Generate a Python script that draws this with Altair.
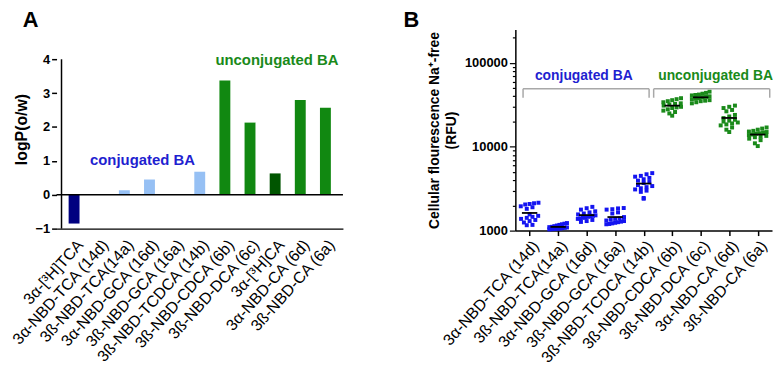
import json
import altair as alt
import numpy as np
import pandas as pd

FONT = "Liberation Sans"

# ---------------- Panel A data ----------------
a_labels = ["3α-[³H]TCA", "3α-NBD-TCA (14d)", "3ß-NBD-TCA(14a)", "3α-NBD-GCA (16d)",
            "3ß-NBD-GCA (16a)", "3ß-NBD-TCDCA (14b)", "3ß-NBD-CDCA (6b)", "3ß-NBD-DCA (6c)",
            "3α-[³H]CA", "3α-NBD-CA (6d)", "3ß-NBD-CA (6a)"]
a_logp = [-0.85, None, 0.13, 0.45, None, 0.68, 3.37, 2.13, 0.63, 2.80, 2.57]
a_group = ["tca", "conjA", "conjA", "conjA", "conjA", "conjA", "unconjA", "unconjA", "ca", "unconjA", "unconjA"]
a_group_names = ["tca", "conjA", "unconjA", "ca"]
a_group_colors = ["#000080", "#96c0f4", "#118811", "#005500"]
a_ticks = [-1, 0, 1, 2, 3, 4]

# ---------------- Panel B data ----------------
b_labels = ["3α-NBD-TCA (14d)", "3ß-NBD-TCA(14a)", "3α-NBD-GCA (16d)", "3ß-NBD-GCA (16a)",
            "3ß-NBD-TCDCA (14b)", "3ß-NBD-CDCA (6b)", "3ß-NBD-DCA (6c)", "3α-NBD-CA (6d)",
            "3ß-NBD-CA (6a)"]
b_group = ["conjB", "conjB", "conjB", "conjB", "conjB", "unconjB", "unconjB", "unconjB", "unconjB"]
b_values = [
    [2150, 2120, 2080, 2050, 1950, 1900, 1820, 1560, 1500, 1460, 1420, 1380, 1340, 1300, 1250, 1170, 1160],
    [1230, 1210, 1190, 1170, 1150, 1130, 1110, 1100, 1090, 1080, 1070, 1060, 1055, 1050, 1045, 1040, 1035],
    [1920, 1850, 1780, 1700, 1650, 1600, 1560, 1520, 1500, 1480, 1460, 1440, 1420, 1400, 1380, 1340, 1300, 1270],
    [1860, 1840, 1800, 1780, 1650, 1600, 1450, 1400, 1380, 1350, 1320, 1300, 1280, 1260, 1240, 1220, 1200, 1190],
    [4850, 4700, 4500, 4400, 4250, 4100, 3950, 3800, 3700, 3500, 3400, 3300, 3200, 3100, 3000, 2900, 2450, 2400],
    [38000, 37000, 36000, 35000, 34000, 33000, 32500, 32000, 31000, 30000, 29500, 29000, 28000, 27000, 26000, 25000, 23500],
    [45500, 44000, 43000, 42000, 41500, 41000, 40000, 39500, 39000, 38000, 37500, 37000, 36000, 35500, 35000, 34000, 33000],
    [31000, 30000, 29000, 27500, 26500, 24000, 23000, 22000, 21000, 20500, 20000, 19500, 19000, 18500, 18000, 17000, 16000, 15000],
    [17000, 16500, 16000, 15500, 15200, 15000, 14800, 14500, 14300, 14000, 13800, 13500, 13200, 13000, 12500, 12000, 11000, 10200],
]
b_group_names = ["conjB", "unconjB"]
b_group_colors = ["#1414f0", "#1a8a1a"]
b_ticks = [1000, 2000, 3000, 4000, 5000, 6000, 7000, 8000, 9000,
           10000, 20000, 30000, 40000, 50000, 60000, 70000, 80000, 90000,
           100000, 200000]
b_major = [1000, 10000, 100000]

BLUE_TXT = "#1f1fd0"
GREEN_TXT = "#1a8a1a"
LABEL_SIZE = 16
LABEL_ANGLE = -48

# ---------------- Panel A ----------------
dfA = pd.DataFrame({"idx": range(len(a_labels)), "logP": a_logp, "group": a_group}).dropna()

xscaleA = alt.Scale(domain=[-0.5, len(a_labels) - 0.5], nice=False, zero=False)
yscaleA = alt.Scale(domain=[-1, 4.88], nice=False)

xaxisA = alt.Axis(values=list(range(len(a_labels))),
                  labelExpr=json.dumps(a_labels, ensure_ascii=False) + "[datum.value]",
                  ticks=False, grid=False, labelAngle=LABEL_ANGLE, labelFont=FONT, labelFontSize=LABEL_SIZE,
                  labelColor="black", domainColor="black", domainWidth=1.5, title=None,
                  labelFlush=False, labelOverlap=False, labelPadding=8,
                  labelAlign="right", labelBaseline="top")
yaxisA = alt.Axis(values=a_ticks, format="d", grid=False, tickSize=5, tickWidth=1.5,
                  tickColor="black", domain=False, labelOverlap=False, labelFlush=False,
                  labelFont=FONT, labelFontSize=13, labelFontWeight="bold", labelColor="black",
                  title="logP(o/w)", titleFont=FONT, titleFontSize=16, titleFontWeight="bold",
                  titleColor="black", titlePadding=6)

def xa(field):
    return alt.X(field, scale=xscaleA, axis=xaxisA)

def ya(field):
    return alt.Y(field, scale=yscaleA, axis=yaxisA)

barsA = alt.Chart(dfA).mark_bar(size=11).encode(
    x=xa("idx:Q"), y=ya("logP:Q"),
    color=alt.Color("group:N", scale=alt.Scale(domain=a_group_names, range=a_group_colors), legend=None),
)
zeroA = alt.Chart(pd.DataFrame({"logP": [0]})).mark_rule(color="black", strokeWidth=1.5).encode(
    y=ya("logP:Q"))
axisLineA = alt.Chart(pd.DataFrame({"idx": [-0.5], "logP": [min(a_ticks)], "y2": [max(a_ticks)]})).mark_rule(
    color="black", strokeWidth=1.5).encode(x=xa("idx:Q"), y=ya("logP:Q"), y2="y2:Q")

annA = pd.DataFrame({"idx": [2.72, 8.07], "logP": [1.02, 3.98],
                     "t": ["conjugated BA", "unconjugated BA"], "c": [BLUE_TXT, GREEN_TXT]})
textA = alt.Chart(annA).mark_text(font=FONT, fontSize=15, fontWeight="bold").encode(
    x=xa("idx:Q"), y=ya("logP:Q"), text="t:N", color=alt.Color("c:N", scale=None))
letterA = alt.Chart(pd.DataFrame({"t": ["A"]})).mark_text(
    font=FONT, fontSize=22, fontWeight="bold", align="left", baseline="top", x=-34, y=-19,
    color="black").encode(text="t:N")

chartA = alt.layer(barsA, zeroA, axisLineA, textA, letterA).properties(width=289, height=201)

# ---------------- Panel B ----------------
def swarm(vals, bin_dec=0.05, dx_max=0.2, max_width=0.62):
    logs = np.log10(np.asarray(vals, dtype=float))
    bins = np.floor((logs.max() - logs) / bin_dec).astype(int)
    offs = np.zeros(len(vals))
    for b in np.unique(bins):
        ids = np.where(bins == b)[0]
        n = len(ids)
        dx = dx_max if n < 2 else min(dx_max, max_width / (n - 1))
        order = np.argsort(logs[ids])
        pos = (np.arange(n) - (n - 1) / 2.0) * dx
        offs[ids[order]] = pos
    return offs

rows = []
for i, vals in enumerate(b_values):
    offs = swarm(vals)
    for v, o in zip(vals, offs):
        rows.append({"idx": i, "v": v, "xpos": i + o, "group": b_group[i]})
dfB = pd.DataFrame(rows)

xscaleB = alt.Scale(domain=[-0.5, len(b_labels) - 0.5], nice=False, zero=False)
yscaleB = alt.Scale(type="log", domain=[1000, 251189], nice=False)
major_test = "indexof(" + json.dumps(b_major) + ", datum.value) >= 0"

xaxisB = alt.Axis(values=list(range(len(b_labels))),
                  labelExpr=json.dumps(b_labels, ensure_ascii=False) + "[datum.value]",
                  tickSize=5, tickWidth=1.5, tickColor="black", grid=False, labelAngle=LABEL_ANGLE,
                  labelFont=FONT, labelFontSize=LABEL_SIZE, labelColor="black",
                  domainColor="black", domainWidth=1.5, title=None,
                  labelFlush=False, labelOverlap=False, labelPadding=2,
                  labelAlign="right", labelBaseline="top")
yaxisB = alt.Axis(values=b_ticks,
                  labelExpr=major_test + " ? format(datum.value, 'd') : ''",
                  tickSize=alt.condition(major_test, alt.value(6), alt.value(3)),
                  tickWidth=1.2, tickColor="black", grid=False,
                  domainColor="black", domainWidth=1.5, labelOverlap=False, labelFlush=False,
                  labelFont=FONT, labelFontSize=13, labelFontWeight="bold", labelColor="black",
                  title=["Cellular flourescence Na⁺-free", "(RFU)"], titleFont=FONT,
                  titleFontSize=14, titleFontWeight="bold", titleColor="black",
                  titleLineHeight=17, titlePadding=6)

def xb(field):
    return alt.X(field, scale=xscaleB, axis=xaxisB)

def yb(field):
    return alt.Y(field, scale=yscaleB, axis=yaxisB)

pointsB = alt.Chart(dfB).mark_square(size=16, opacity=1).encode(
    x=xb("xpos:Q"), y=yb("v:Q"),
    color=alt.Color("group:N", scale=alt.Scale(domain=b_group_names, range=b_group_colors), legend=None),
)
meanB = alt.Chart(dfB).transform_aggregate(
    v="mean(v)", groupby=["idx"]
).transform_calculate(
    xpos="datum.idx - 0.27", x2="datum.idx + 0.27"
).mark_rule(color="black", strokeWidth=1.8).encode(
    x=xb("xpos:Q"), x2="x2:Q", y=yb("v:Q"))

# brackets (annotation)
br_left = [-0.23, 4.35]
br_right = [4.19, 8.42]
br_top = 49200
br_bottom = 38500
segs = []
for l, r in zip(br_left, br_right):
    segs.append({"xpos": l, "x2": r, "v": br_top, "y2": br_top})
    segs.append({"xpos": l, "x2": l, "v": br_top, "y2": br_bottom})
    segs.append({"xpos": r, "x2": r, "v": br_top, "y2": br_bottom})
bracketB = alt.Chart(pd.DataFrame(segs)).mark_rule(color="#a8a8a8", strokeWidth=1.5).encode(
    x=xb("xpos:Q"), x2="x2:Q", y=yb("v:Q"), y2="y2:Q")

annB = pd.DataFrame({"xpos": [1.9, 6.52], "v": [70100, 70100],
                     "t": ["conjugated BA", "unconjugated BA"], "c": [BLUE_TXT, GREEN_TXT]})
textB = alt.Chart(annB).mark_text(font=FONT, fontSize=14, fontWeight="bold").encode(
    x=xb("xpos:Q"), y=yb("v:Q"), text="t:N", color=alt.Color("c:N", scale=None))
letterB = alt.Chart(pd.DataFrame({"t": ["B"]})).mark_text(
    font=FONT, fontSize=22, fontWeight="bold", align="left", baseline="top", x=-113, y=-19,
    color="black").encode(text="t:N")

chartB = alt.layer(pointsB, bracketB, meanB, textB, letterB).properties(width=259, height=203)

chart = alt.hconcat(chartA, chartB, spacing=60).resolve_scale(color="independent").properties(
    padding={"left": 0, "top": 0, "right": 0, "bottom": 0}, background="white"
).configure_view(stroke="transparent", strokeWidth=0)

chart.save("out.html", embed_options={"renderer": "svg", "actions": False})
